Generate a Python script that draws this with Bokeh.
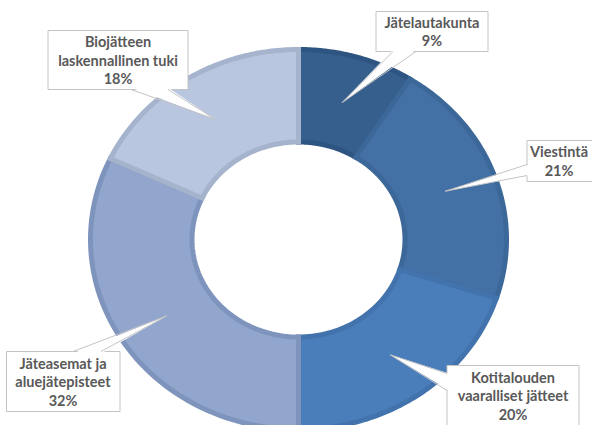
import numpy as np
from bokeh.plotting import figure
from bokeh.models import Range1d, ColumnDataSource
from bokeh.embed import file_html
from bokeh.resources import INLINE
from bokeh.core.properties import value

# ---- data ----
categories = ["Jätelautakunta", "Viestintä", "Kotitalouden\nvaaralliset jätteet",
              "Jäteasemat ja\naluejätepisteet", "Biojätteen\nlaskennallinen tuki"]
shares = [9, 21, 20, 32, 18]

# ---- styles ----
fill_colors = ["#365F8E", "#4471A5", "#4A7EBB", "#92A6CD", "#B9C6DF"]
edge_colors = ["#2E5482", "#3C6799", "#4273AC", "#7F94BC", "#A5B3CC"]
text_color = "#595959"
box_line = "#C4C4C4"

W, H = 592, 425
OX, OY = 2.5, 2.0
cx, cy = 300.5, 241.0
rx_out, ry_out = 208.0, 190.0
rx_in, ry_in = 106.5, 97.5
tip_frac = 0.75

# callout layout: box (left, top, right, bottom), pointer base points, text center x
callouts = [
    dict(box=(378, 13, 490, 53), base=((395, 53), (418, 53)), tx=434),
    dict(box=(529, 142, 610, 183), base=((529, 166), (529, 177)), tx=561),
    dict(box=(449, 367, 581, 427), base=((449, 375), (449, 392)), tx=515),
    dict(box=(8.5, 353, 122, 413), base=((75, 353), (103, 353)), tx=65),
    dict(box=(50, 32, 190, 91), base=((133, 91), (170, 91)), tx=120),
]
line_gap = 18.5

p = figure(width=W, height=H, x_range=Range1d(OX, OX + W), y_range=Range1d(OY + H, OY),
           output_backend="svg", toolbar_location=None, min_border=0,
           x_axis_type=None, y_axis_type=None)
p.grid.visible = False
p.outline_line_color = None
p.background_fill_color = "white"
p.border_fill_color = "white"

total = float(sum(shares))
cum = np.concatenate([[0.0], np.cumsum(shares)]) / total * 2 * np.pi

xs, ys, mids = [], [], []
for i in range(len(shares)):
    t = np.linspace(cum[i], cum[i + 1], 80)
    ox = cx + rx_out * np.sin(t)
    oy = cy - ry_out * np.cos(t)
    ix = cx + rx_in * np.sin(t[::-1])
    iy = cy - ry_in * np.cos(t[::-1])
    xs.append(np.concatenate([ox, ix]).tolist())
    ys.append(np.concatenate([oy, iy]).tolist())
    mids.append((cum[i] + cum[i + 1]) / 2)

src = ColumnDataSource(dict(xs=xs, ys=ys, fill=fill_colors, edge=edge_colors))
p.patches("xs", "ys", source=src, fill_color="fill", line_color="edge",
          line_width=5, line_join="miter")

for i, c in enumerate(callouts):
    m = mids[i]
    tipx = cx + tip_frac * rx_out * np.sin(m)
    tipy = cy - tip_frac * ry_out * np.cos(m)
    (l, t_, r, b) = c["box"]
    (b1x, b1y), (b2x, b2y) = c["base"]
    by_c = (t_ + b) / 2

    def inward(px, py):
        if abs(py - b) < 0.6:
            return px, py - 2
        if abs(py - t_) < 0.6:
            return px, py + 2
        if abs(px - l) < 0.6:
            return px + 2, py
        return px - 2, py

    i1 = inward(b1x, b1y)
    i2 = inward(b2x, b2y)
    p.quad(left=l, right=r, top=t_, bottom=b, fill_color="white",
           line_color=box_line, line_width=1)
    p.patch([i1[0], i2[0], tipx], [i1[1], i2[1], tipy], fill_color="white",
            line_color=None)
    p.segment(x0=[b1x, b2x], y0=[b1y, b2y], x1=[tipx, tipx], y1=[tipy, tipy],
              line_color=box_line, line_width=1)
    lines = categories[i].split("\n") + [f"{shares[i]}%"]
    n = len(lines)
    ty = [by_c + (k - (n - 1) / 2) * line_gap for k in range(n)]
    p.text(x=[c["tx"]] * n, y=ty, text=lines, text_font=value("Lato"),
           text_font_style="bold", text_font_size="14.5px", text_color=text_color,
           text_align="center", text_baseline="middle")

open("out.html", "w").write(file_html(p, INLINE))
